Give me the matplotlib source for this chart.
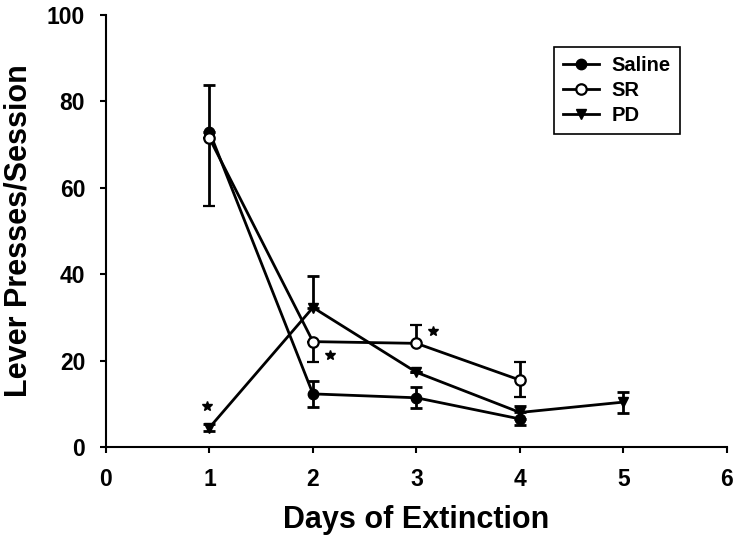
import numpy as np
import matplotlib
matplotlib.use('Agg')
import matplotlib.pyplot as plt

plt.rcParams['font.family'] = ['Liberation Sans', 'DejaVu Sans']
plt.rcParams['font.weight'] = 'bold'

# Mean lever presses per session and error bars (lower, upper)
days = [1, 2, 3, 4]
days_pd = [1, 2, 3, 4, 5]

saline = [73.0, 12.3, 11.4, 6.5]
saline_lo = [0.0, 3.0, 2.4, 1.5]
saline_hi = [10.8, 3.0, 2.4, 1.5]

sr = [71.5, 24.4, 24.0, 15.5]
sr_lo = [15.7, 4.7, 0.0, 4.0]
sr_hi = [0.0, 0.0, 4.2, 4.2]

pd_ = [4.5, 32.3, 17.3, 8.0, 10.4]
pd_lo = [0.8, 0.0, 0.0, 1.5, 2.5]
pd_hi = [0.8, 7.4, 0.0, 1.5, 2.4]

# significance stars
star_x = [0.98, 2.16, 3.16]
star_y = [9.6, 21.3, 26.9]

fig = plt.figure(figsize=(7.38, 5.38), dpi=100)
ax = fig.add_axes([0.1436, 0.1691, 0.8414, 0.8029])

lw = 2.0
kw = dict(color='black', lw=lw, capsize=4.5, capthick=lw, elinewidth=lw, markersize=7.5)

ax.errorbar(days, saline, yerr=[saline_lo, saline_hi], marker='o', mfc='black', mec='black',
            label='Saline', **kw)
ax.errorbar(days, sr, yerr=[sr_lo, sr_hi], marker='o', mfc='white', mec='black', mew=1.6,
            label='SR', **kw)
ax.errorbar(days_pd, pd_, yerr=[pd_lo, pd_hi], marker='v', mfc='black', mec='black',
            label='PD', **kw)

ax.plot(star_x, star_y, ls='none', marker='*', color='black', markersize=7)

ax.set_xlim(0, 6)
ax.set_ylim(0, 100)
ax.set_xticks(range(0, 7))
ax.set_yticks(range(0, 101, 20))
ax.spines['top'].set_visible(False)
ax.spines['right'].set_visible(False)
ax.spines['left'].set_linewidth(1.5)
ax.spines['bottom'].set_linewidth(1.5)
ax.tick_params(direction='out', length=4, width=1.5, labelsize=16.5, pad=11)
for lab in ax.get_xticklabels() + ax.get_yticklabels():
    lab.set_fontweight('bold')

ax.set_xlabel('Days of Extinction', fontsize=22, fontweight='bold', labelpad=10)
ax.set_ylabel('Lever Presses/Session', fontsize=22, fontweight='bold', labelpad=10)

handles, labels = ax.get_legend_handles_labels()
handles = [h[0] for h in handles]
leg = ax.legend(handles, labels, loc='upper right', bbox_to_anchor=(0.924, 0.926),
                borderaxespad=0, fancybox=False, edgecolor='black', framealpha=1,
                prop={'weight': 'bold', 'size': 14.5}, handlelength=1.8, handletextpad=0.6,
                borderpad=0.45, labelspacing=0.3)
leg.get_frame().set_linewidth(1.2)

fig.savefig('out.png', dpi=100)
